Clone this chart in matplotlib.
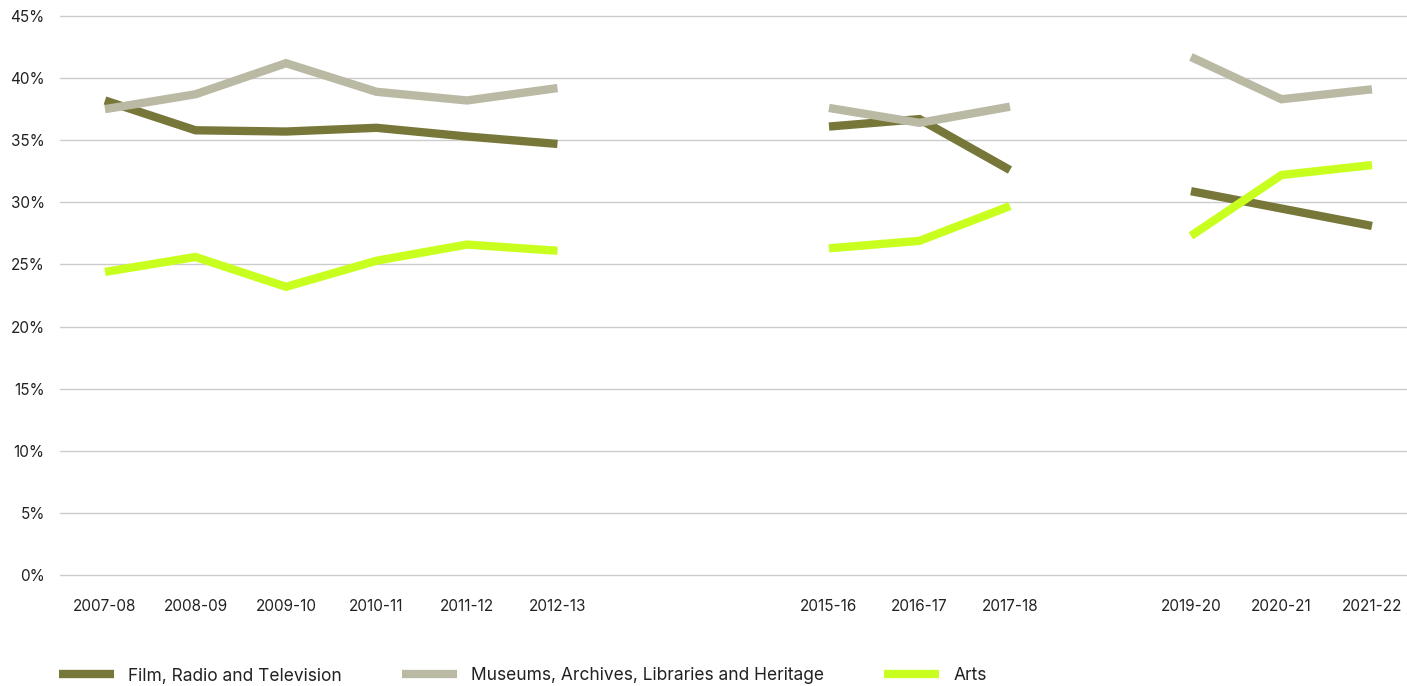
import numpy as np
import matplotlib
matplotlib.use("Agg")
import matplotlib.pyplot as plt
from matplotlib.ticker import FuncFormatter

plt.rcParams['font.family'] = ['Inter', 'DejaVu Sans']

years = ["2007-08", "2008-09", "2009-10", "2010-11", "2011-12", "2012-13",
         "2013-14", "2014-15", "2015-16", "2016-17", "2017-18", "2018-19",
         "2019-20", "2020-21", "2021-22"]
# Years without survey data are left as gaps
shown_labels = ["2007-08", "2008-09", "2009-10", "2010-11", "2011-12", "2012-13",
                "", "", "2015-16", "2016-17", "2017-18", "",
                "2019-20", "2020-21", "2021-22"]

nan = np.nan
film = [38.2, 35.8, 35.7, 36.0, 35.3, 34.7, nan, nan, 36.1, 36.7, 32.6, nan, 30.9, 29.5, 28.1]
museums = [37.5, 38.7, 41.2, 38.9, 38.2, 39.2, nan, nan, 37.6, 36.4, 37.7, nan, 41.7, 38.3, 39.1]
arts = [24.4, 25.6, 23.2, 25.3, 26.6, 26.1, nan, nan, 26.3, 26.9, 29.7, nan, 27.3, 32.2, 33.0]

series = [
    ("Film, Radio and Television", film, "#77773a"),
    ("Museums, Archives, Libraries and Heritage", museums, "#bab9a3"),
    ("Arts", arts, "#c8ff1e"),
]

fig = plt.figure(figsize=(14.07, 6.86), dpi=100)
ax = fig.add_axes([60 / 1407, 111 / 686, 1 - 60 / 1407, 559 / 686])

x = np.arange(len(years))
handles = []
for name, vals, color in series:
    h, = ax.plot(x, vals, color=color, lw=6, solid_capstyle='butt',
                 solid_joinstyle='miter', label=name, zorder=3)
    handles.append(h)

ax.set_xlim(-0.497, 14.387)
ax.set_ylim(0, 45)
ax.set_yticks(np.arange(0, 46, 5))
ax.yaxis.set_major_formatter(FuncFormatter(lambda v, p: f"{v:.0f}%"))
ax.set_xticks(x)
ax.set_xticklabels(shown_labels)
ax.grid(axis='y', color='#cccccc', lw=1)
for gl in ax.get_ygridlines():
    gl.set_clip_on(False)
ax.set_axisbelow(True)
for s in ax.spines.values():
    s.set_visible(False)
ax.tick_params(axis='both', length=0, labelsize=11, labelcolor='#222222')
ax.tick_params(axis='y', pad=11)
ax.tick_params(axis='x', pad=17)

fig.legend(handles=handles, loc='center left', bbox_to_anchor=(52 / 1407, 10 / 686),
           ncol=3, frameon=False, fontsize=12.5, handlelength=3.15, handletextpad=0.85,
           columnspacing=3.45, borderaxespad=0, labelcolor='#222222')

fig.savefig("out.png", dpi=100)
